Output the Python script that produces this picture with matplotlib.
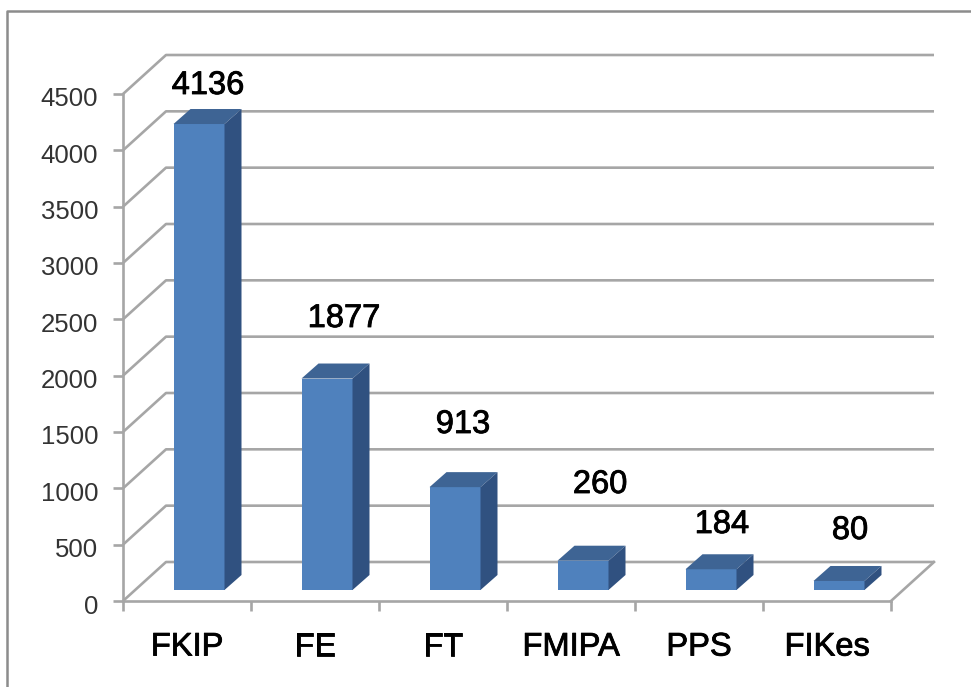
import matplotlib
matplotlib.use("Agg")
import matplotlib.pyplot as plt
import matplotlib.patheffects as pe
from matplotlib.patches import Polygon
from matplotlib.lines import Line2D
from matplotlib.transforms import ScaledTranslation

categories = ["FKIP", "FE", "FT", "FMIPA", "PPS", "FIKes"]
values = [4136, 1877, 913, 260, 184, 80]
y_ticks = [0, 500, 1000, 1500, 2000, 2500, 3000, 3500, 4000, 4500]

W, H = 971, 687
grid_col = "#a6a6a6"
front_col = "#4f81bd"
top_col = "#3e6494"
side_col = "#305180"

# pixels of the front plane of the fake 3d box
left, right, bottom, top = 123, 891, 601, 94
px_x = (right - left) / len(categories)
px_y = (bottom - top) / 4500.0

fig = plt.figure(figsize=(W / 100, H / 100), dpi=100)
ax = fig.add_axes([left / W, 1 - bottom / H, (right - left) / W, (bottom - top) / H])
ax.set_xlim(0, len(categories))
ax.set_ylim(0, 4500)
ax.patch.set_alpha(0)
for s in ax.spines.values():
    s.set_visible(False)

# depth offsets in data units
wall_dx = 43 / px_x
wall_dy = 39 / px_y
bar_shift_x = 12 / px_x
bar_shift_y = 11 / px_y
bar_w = 51 / px_x
bar_dx = 17 / px_x
bar_dy = 15 / px_y

lw = 1.9
for t in y_ticks:
    ax.plot([0, wall_dx, len(categories) + wall_dx], [t, t + wall_dy, t + wall_dy],
            color=grid_col, lw=lw, clip_on=False, solid_capstyle="butt", zorder=1)
ax.plot([len(categories), len(categories) + wall_dx], [0, wall_dy],
        color=grid_col, lw=lw, clip_on=False, zorder=1)
ax.plot([0, 0], [0, 4500], color=grid_col, lw=lw, clip_on=False, zorder=2)
ax.plot([0, len(categories)], [0, 0], color=grid_col, lw=lw, clip_on=False, zorder=2)

for i, v in enumerate(values):
    x0 = i + 0.5 + bar_shift_x - bar_w / 2
    x1 = x0 + bar_w
    y0 = bar_shift_y
    y1 = y0 + v
    ax.add_patch(Polygon([(x0, y0), (x1, y0), (x1, y1), (x0, y1)], color=front_col, lw=0, zorder=3, clip_on=False))
    ax.add_patch(Polygon([(x0, y1), (x1, y1), (x1 + bar_dx, y1 + bar_dy), (x0 + bar_dx, y1 + bar_dy)],
                         color=top_col, lw=0, zorder=3, clip_on=False))
    ax.add_patch(Polygon([(x1, y0), (x1 + bar_dx, y0 + bar_dy), (x1 + bar_dx, y1 + bar_dy), (x1, y1)],
                         color=side_col, lw=0, zorder=3, clip_on=False))

ax.set_yticks(y_ticks)
ax.set_xticks(range(len(categories) + 1))
ax.set_xticklabels([])
ax.tick_params(axis="both", length=7, width=lw, color=grid_col)
ax.tick_params(axis="y", labelsize=18.5, labelcolor="#333333", pad=11)
# tick labels sit a little under their ticks in the original
nudge = ScaledTranslation(0, -3 / 100, fig.dpi_scale_trans)
for lab in ax.get_yticklabels():
    lab.set_family("Liberation Sans")
    lab.set_transform(lab.get_transform() + nudge)

stroke = [pe.withStroke(linewidth=0.6, foreground="black")]

ax.set_xticks([i + 0.5 for i in range(len(categories))], minor=True)
ax.set_xticklabels(categories, minor=True, family="Liberation Sans",
                   fontsize=23.5, color="black", path_effects=stroke)
ax.tick_params(axis="x", which="minor", length=0, pad=22)

# value labels sit at hand placed spots in the original (baseline pixels)
label_px = [(208, 94), (344, 327), (463, 433), (600, 493), (722, 533), (850, 539)]
for v, (px, py) in zip(values, label_px):
    fig.text(px / W, 1 - py / H, str(v), ha="center", va="baseline", fontsize=23.5,
             family="Liberation Sans", color="black", path_effects=stroke)

# outer chart border, only top and left are in frame
fig.add_artist(Line2D([7 / W, 7 / W, 1], [0, 1 - 11 / H, 1 - 11 / H], color="#8c8c8c", lw=1.8))

fig.savefig("out.png", dpi=100)
